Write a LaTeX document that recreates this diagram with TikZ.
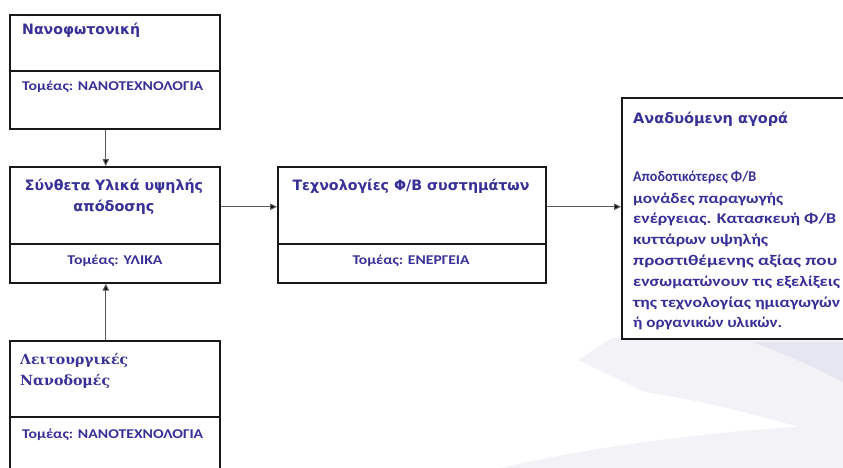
\documentclass[tikz,border=0pt]{standalone}
\usepackage{fontspec}
\usepackage{graphicx}
\setmainfont{Carlito}
\newfontfamily\widef{DejaVu Sans}
\newfontfamily\serf{DejaVu Serif}
\usetikzlibrary{arrows.meta,calc}
\definecolor{txtblue}{RGB}{55,48,150}
\definecolor{wmgray}{RGB}{243,243,247}
\definecolor{wmlav}{RGB}{230,230,243}
\newcommand{\fitw}[2]{\resizebox{#1pt}{\height}{#2}}
\begin{document}
\begin{tikzpicture}[x=1pt,y=-1pt,
  box/.style={draw=black!90, line width=1.6pt, anchor=north west, inner sep=0pt},
  divline/.style={draw=black!90, line width=1.6pt},
  ttl/.style={text=txtblue, font=\widef\bfseries\fontsize{14.3}{17}\selectfont, inner sep=0pt},
  sub/.style={text=txtblue, font=\bfseries\fontsize{13.4}{16}\selectfont, inner sep=0pt},
  body/.style={text=txtblue, font=\bfseries\fontsize{14.8}{18}\selectfont, inner sep=0pt, anchor=base west},
  sertl/.style={text=txtblue, font=\serf\bfseries\fontsize{14}{17}\selectfont, inner sep=0pt, anchor=base west},
  arr/.style={draw=black!65, line width=1.1pt, -{Triangle[length=7pt,width=6.5pt,fill=black]}}
]
\useasboundingbox (0,0) rectangle (843,468);
\clip (0,0) rectangle (843,468);
% faint watermark swooshes
\fill[wmgray] (578,360) -- (612,338) -- (843,338) -- (843,440) .. controls (760,415) and (700,400) .. (645,392) -- cycle;
\fill[wmlav] (752,342) -- (843,342) -- (843,382) .. controls (810,365) and (780,352) .. cycle;
\fill[wmgray] (500,468) .. controls (600,445) and (720,430) .. (843,424) -- (843,468) -- cycle;
% boxes
\node[box, minimum width=210pt, minimum height=114pt] (b1) at (9,14) {};
\node[box, minimum width=210pt, minimum height=116pt] (b2) at (9,166) {};
\node[box, minimum width=210pt, minimum height=140pt] (b3) at (9,340) {};
\node[box, minimum width=268pt, minimum height=116pt] (b4) at (277,166) {};
\node[box, minimum width=240pt, minimum height=241pt] (b5) at (621,97) {};
% dividers
\draw[divline] (b1.west |- 0,71) -- (b1.east |- 0,71);
\draw[divline] (b2.west |- 0,244) -- (b2.east |- 0,244);
\draw[divline] (b3.west |- 0,417) -- (b3.east |- 0,417);
\draw[divline] (b4.west |- 0,244) -- (b4.east |- 0,244);
% box 1
\node[ttl, anchor=base west] (t1) at (22,35) {\fitw{118}{Νανοφωτονική}};
\node[sub, anchor=base west] (s1) at (22,91) {\fitw{181}{Τομέας: ΝΑΝΟΤΕΧΝΟΛΟΓΙΑ}};
% box 2
\node[ttl, anchor=base] (t2a) at (114,190) {\fitw{178}{Σύνθετα Υλικά υψηλής}};
\node[ttl, anchor=base] (t2b) at (114,211) {\fitw{81}{απόδοσης}};
\node[sub, anchor=base] (s2) at (115,264) {\fitw{95}{Τομέας: ΥΛΙΚΑ}};
% box 3
\node[sertl] (t3a) at (20,364) {\fitw{108}{Λειτουργικές}};
\node[sertl] (t3b) at (20,385) {\fitw{90}{Νανοδομές}};
\node[sub, anchor=base west] (s3) at (22,438) {\fitw{181}{Τομέας: ΝΑΝΟΤΕΧΝΟΛΟΓΙΑ}};
% box 4
\node[ttl, anchor=base] (t4) at (411,190) {\fitw{237}{Τεχνολογίες Φ/Β συστημάτων}};
\node[sub, anchor=base] (s4) at (411,264) {\fitw{117}{Τομέας: ΕΝΕΡΓΕΙΑ}};
% box 5
\node[ttl, anchor=base west] (t5) at (633,123) {\fitw{155}{Αναδυόμενη αγορά}};
\node[body] (p1) at (633,182) {\fitw{123}{Αποδοτικότερες Φ/Β}};
\node[body] (p2) at (633,203) {\fitw{150}{μονάδες παραγωγής}};
\node[body] (p3) at (633,223) {\fitw{203}{ενέργειας. Κατασκευή Φ/Β}};
\node[body] (p4) at (633,244) {\fitw{135}{κυττάρων υψηλής}};
\node[body] (p5) at (633,265) {\fitw{204}{προστιθέμενης αξίας που}};
\node[body] (p6) at (633,286) {\fitw{207}{ενσωματώνουν τις εξελίξεις}};
\node[body] (p7) at (633,307) {\fitw{207}{της τεχνολογίας ημιαγωγών}};
\node[body] (p8) at (633,327) {\fitw{149}{ή οργανικών υλικών.}};
% connectors
\draw[arr] ([xshift=-9pt]b1.south) -- ([xshift=-9pt]b2.north);
\draw[arr] ([xshift=-9pt]b3.north) -- ([xshift=-9pt]b2.south);
\draw[arr] ([yshift=18pt]b2.east) -- ([yshift=18pt]b4.west);
\draw[arr] ([yshift=18pt]b4.east) -- ([yshift=18pt]b4.east -| b5.west);
\end{tikzpicture}
\end{document}
